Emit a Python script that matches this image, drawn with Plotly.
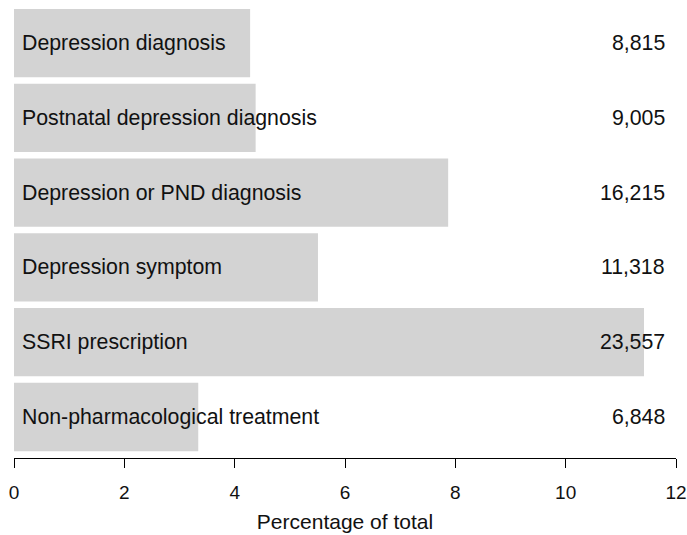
import plotly.graph_objects as go

categories = ["Depression diagnosis", "Postnatal depression diagnosis", "Depression or PND diagnosis",
              "Depression symptom", "SSRI prescription", "Non-pharmacological treatment"]
percentages = [4.28, 4.38, 7.87, 5.51, 11.42, 3.34]
counts = ["8,815", "9,005", "16,215", "11,318", "23,557", "6,848"]
x_ticks = [0, 2, 4, 6, 8, 10, 12]

pos = list(range(len(categories)))
FONT = "Liberation Sans, Arial, sans-serif"

fig = go.Figure()
fig.add_trace(go.Bar(
    x=percentages, y=pos, orientation="h",
    marker=dict(color="#d3d3d3", line=dict(width=0)),
    hoverinfo="skip", showlegend=False,
))

for p, cat, cnt in zip(pos, categories, counts):
    fig.add_annotation(x=0, y=p, text=cat, xanchor="left", yanchor="middle",
                       xshift=6, showarrow=False,
                       font=dict(family=FONT, size=21.3, color="#111111"))
    fig.add_annotation(x=12, y=p, text=cnt, xanchor="right", yanchor="middle",
                       xshift=-9, showarrow=False,
                       font=dict(family=FONT, size=21.3, color="#111111"))

fig.update_layout(
    width=687, height=535,
    margin=dict(l=14, r=11, t=6, b=77, autoexpand=False),
    plot_bgcolor="white", paper_bgcolor="white",
    bargap=0.087,
    font=dict(family=FONT, size=20, color="#111111"),
    xaxis=dict(range=[0, 12], tickvals=x_ticks, ticks="outside", ticklen=9,
               tickcolor="black", showline=True, linecolor="black", linewidth=1,
               showgrid=False, zeroline=False, automargin=False,
               ticklabelstandoff=8,
               tickfont=dict(family=FONT, size=19, color="#111111"),
               title=dict(text="Percentage of total", standoff=12,
                          font=dict(family=FONT, size=21, color="#111111"))),
    yaxis=dict(range=[5.548, -0.495], showticklabels=False, showgrid=False,
               zeroline=False, showline=False, ticks="", automargin=False),
)

fig.write_html("out.html", config={"displayModeBar": False},
               post_script="document.body.style.margin='0';document.body.style.overflow='hidden';")
